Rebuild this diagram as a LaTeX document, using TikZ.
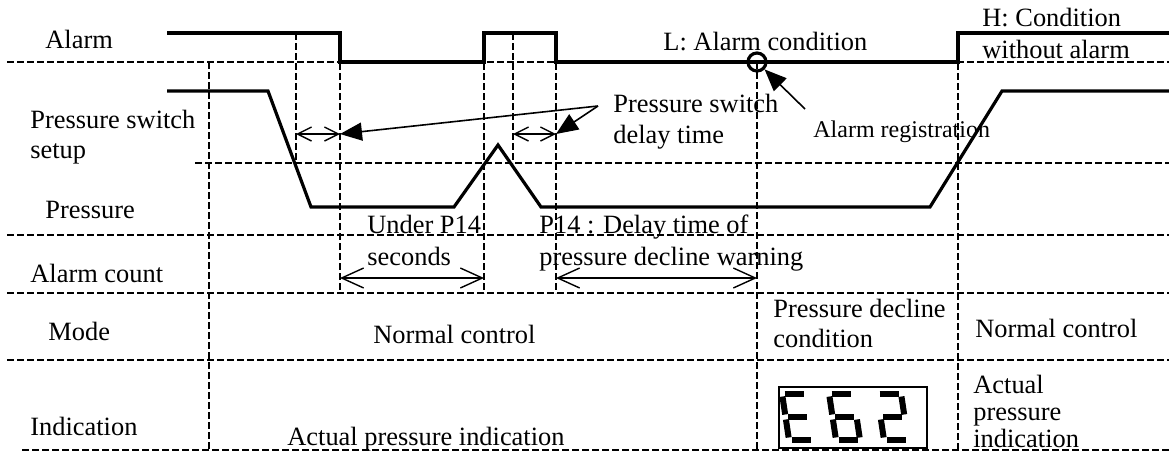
\documentclass[tikz,border=0pt]{standalone}
\usepackage{fontspec}
\setmainfont{Liberation Serif}
\usetikzlibrary{arrows.meta}

\tikzset{
  sig/.style={line width=1.6pt},
  grid/.style={line width=0.6pt, dash pattern=on 3.3pt off 1.7pt},
  span/.style={line width=0.7pt, {Straight Barb[length=7pt,width=7pt]}-{Straight Barb[length=7pt,width=7pt]}},
  longspan/.style={line width=0.7pt, {Straight Barb[length=11pt,width=10pt]}-{Straight Barb[length=11pt,width=10pt]}},
  callout/.style={line width=0.8pt, -{Triangle[length=11pt,width=9pt]}},
  txt/.style={anchor=base west, inner sep=0pt, align=left, font=\fontsize{13.2}{15}\selectfont},
  digseg/.style={line width=3pt},
}

\begin{document}
\begin{tikzpicture}[x=0.5pt,y=-0.5pt]
  \useasboundingbox (0,0) rectangle (1169,461);
  % grid
  \draw[grid] (7,62) -- (1169,62);
  \draw[grid] (195,163) -- (1169,163);
  \foreach \y in {235,293,360} {
    \draw[grid] (7,\y) -- (1169,\y);
  }
  \draw[grid] (22,450) -- (1169,450);
  \draw[grid] (209,62) -- (209,450);
  \draw[grid] (757,62) -- (757,450);
  \draw[grid] (958,33) -- (958,450);
  \foreach \x/\yb in {296/163,340/293,484/293,513/163,556/293} {
    \draw[grid] (\x,33) -- (\x,\yb);
  }
  % signals
  \draw[sig] (167,33) -| (340,62) -| (484,33) -| (556,62) -| (958,33) -- (1169,33);
  \draw[sig] (167,91) -- (268,91) -- (311,207) -- (454,207) -- (498,145) -- (541,207)
    -- (930,207) -- (1002,91) -- (1169,91);
  % row labels (base = last line)
  \node[txt] (alarm) at (45,48) {Alarm};
  \node[txt] (pswitch) at (30,158) {Pressure switch\\setup};
  \node[txt] (pressure) at (45,218) {Pressure};
  \node[txt] (count) at (30,282) {Alarm count};
  \node[txt] (mode) at (48,340) {Mode};
  \node[txt] (indication) at (30,435) {Indication};
  % timing spans
  \coordinate (t1) at (296,134);
  \coordinate (t2) at (340,134);
  \coordinate (t3) at (513,134);
  \coordinate (t4) at (556,134);
  \coordinate (c1) at (340,278);
  \coordinate (c2) at (484,278);
  \coordinate (c3) at (556,278);
  \coordinate (c4) at (757,278);
  \draw[span] (t1) -- (t2);
  \draw[span] (t3) -- (t4);
  \draw[longspan] (c1) -- (c2);
  \draw[longspan] (c3) -- (c4);
  % notes
  \node[txt] (lcond) at (663,50) {L: Alarm condition};
  \node[txt,font=\fontsize{13.2}{16}\selectfont] (hcond) at (982,58) {H: Condition\\without alarm};
  \node[txt,font=\fontsize{13.2}{15.5}\selectfont] (delay) at (613,143) {Pressure switch\\delay time};
  \node[txt,font=\fontsize{12}{14}\selectfont] (reg) at (813,137) {Alarm registration};
  \node[txt,font=\fontsize{13.2}{16}\selectfont] (under) at (367,265) {Under P14\\seconds};
  \node[txt,font=\fontsize{13.2}{16}\selectfont] (p14) at (539,265) {P14 : Delay time of\\pressure decline warning};
  \coordinate (dtail) at (598,106);
  \draw[callout] (dtail) -- (t2);
  \draw[callout] (dtail) -- (t4);
  \node[circle,draw,line width=1.6pt,minimum size=9pt,inner sep=0pt] (regmark) at (757,62) {};
  \coordinate (rtail) at (805,109);
  \draw[callout] (rtail) -- (regmark);
  % mode and indication
  \node[txt] (normal1) at (373,343) {Normal control};
  \node[txt] (decline) at (773,347) {Pressure decline\\condition};
  \node[txt] (normal2) at (975,337) {Normal control};
  \node[txt] (actual1) at (287,445) {Actual pressure indication};
  \node[txt,font=\fontsize{13.2}{13.4}\selectfont] (actual2) at (973,447) {Actual\\pressure\\indication};
  % E62 display
  \node[draw,line width=0.8pt,inner sep=0pt,minimum width=74pt,minimum height=30.5pt] (disp) at (853,417.5) {};
  \foreach \dx/\segs in {789/{2.5/46/21.5/46, 0/43.5/0/25.5, 2.5/23/21.5/23, 0/20.5/0/2.5, 2.5/0/21.5/0},
      836/{2.5/46/21.5/46, 0/43.5/0/25.5, 2.5/23/21.5/23, 0/20.5/0/2.5, 24/20.5/24/2.5, 2.5/0/21.5/0},
      884/{2.5/46/21.5/46, 24/43.5/24/25.5, 2.5/23/21.5/23, 0/20.5/0/2.5, 2.5/0/21.5/0}} {
    \begin{scope}[shift={(\dx,440)},yscale=-1,xslant=0.15]
      \foreach \ax/\ay/\bx/\by in \segs {
        \draw[digseg] (\ax,\ay) -- (\bx,\by);
      }
    \end{scope}
  }
\end{tikzpicture}
\end{document}
